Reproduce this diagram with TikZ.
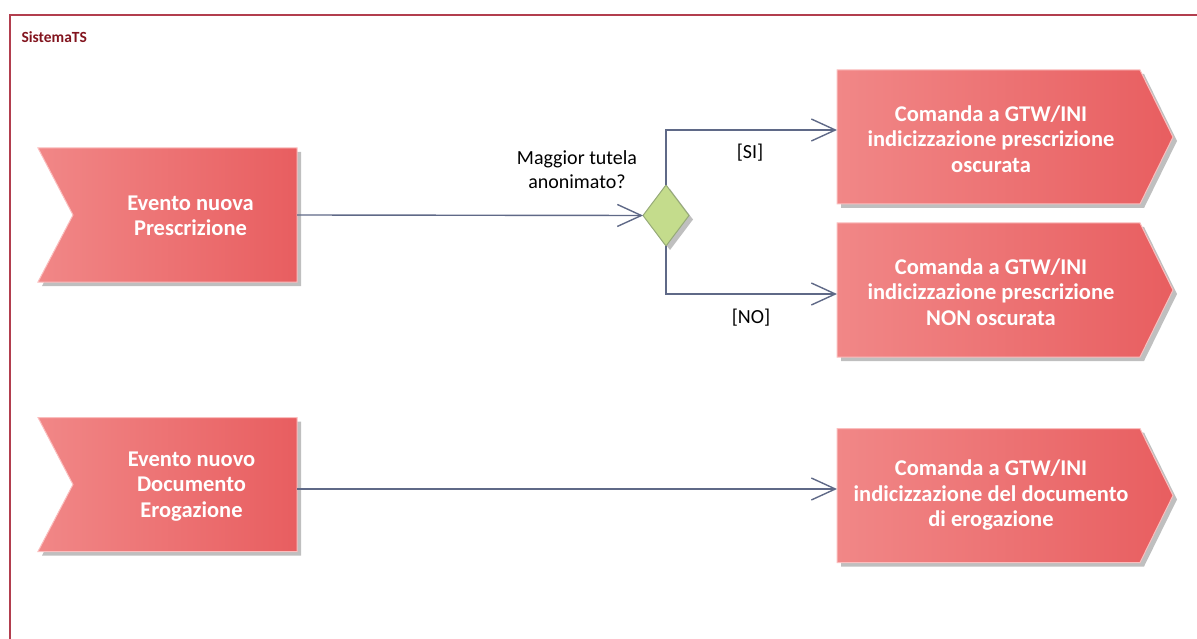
\documentclass[tikz,border=0pt]{standalone}
\usepackage{fontspec}
\setmainfont{Carlito}
\usetikzlibrary{calc,arrows.meta}
\definecolor{frameR}{RGB}{178,62,78}
\definecolor{titleR}{RGB}{130,20,30}
\definecolor{shL}{RGB}{241,135,135}
\definecolor{shR}{RGB}{232,94,96}
\definecolor{shB}{RGB}{250,190,190}
\definecolor{connC}{RGB}{95,105,135}
\definecolor{decF}{RGB}{196,220,140}
\definecolor{decB}{RGB}{150,170,120}
\tikzset{
  holder/.style={draw=none,inner sep=0pt,outer sep=0pt},
  shapetxt/.style={text=white,font=\fontsize{22.5}{25.5}\selectfont\bfseries,align=center},
  lbl/.style={text=black,font=\fontsize{20}{24}\selectfont},
  conn/.style={draw=connC,line width=1.4pt,-{Straight Barb[length=24pt,width=22pt,line width=1.4pt]}},
  redfill/.style={left color=shL,right color=shR,draw=shB,line width=1pt},
  shadowfill/.style={fill=black!25,draw=none,transform canvas={shift={(4,4)}}}
}
\begin{document}
\begin{tikzpicture}[x=1pt,y=-1pt]
\useasboundingbox (0,0) rectangle (1197,639);
% frame
\draw[frameR,line width=1.8pt] (10,639) -- (10,15) -- (1197,15);
\node[anchor=west,text=titleR,font=\fontsize{15.5}{18}\selectfont\bfseries] (title) at (18,37) {SistemaTS};

% holder nodes
\node[holder,minimum width=259pt,minimum height=134pt] (ev1) at (167.5,215) {};
\node[holder,minimum width=259pt,minimum height=134pt] (ev2) at (167.5,484.5) {};
\node[holder,minimum width=336pt,minimum height=134pt] (box1) at (1005,137) {};
\node[holder,minimum width=336pt,minimum height=134pt] (box2) at (1005,290) {};
\node[holder,minimum width=336pt,minimum height=134pt] (box3) at (1005,495.5) {};
\node[holder,minimum width=46pt,minimum height=61pt] (dec) at (666,215.5) {};

% shadows
\foreach \n in {ev1,ev2}{
  \fill[shadowfill] (\n.north west) -- (\n.north east) -- (\n.south east) -- (\n.south west) -- ($(\n.west)+(35,0)$) -- cycle;
}
\foreach \n in {box1,box2,box3}{
  \fill[shadowfill] (\n.north west) -- ($(\n.north east)+(-33,0)$) -- (\n.east) -- ($(\n.south east)+(-33,0)$) -- (\n.south west) -- cycle;
}
\fill[shadowfill] (dec.north) -- (dec.east) -- (dec.south) -- (dec.west) -- cycle;

% shapes
\foreach \n in {ev1,ev2}{
  \path[redfill] (\n.north west) -- (\n.north east) -- (\n.south east) -- (\n.south west) -- ($(\n.west)+(35,0)$) -- cycle;
}
\foreach \n in {box1,box2,box3}{
  \path[redfill] (\n.north west) -- ($(\n.north east)+(-33,0)$) -- (\n.east) -- ($(\n.south east)+(-33,0)$) -- (\n.south west) -- cycle;
}
\draw[fill=decF,draw=decB,line width=1pt] (dec.north) -- (dec.east) -- (dec.south) -- (dec.west) -- cycle;

% texts
\node[shapetxt] (ev1t) at ($(ev1.center)+(23,1)$) {Evento nuova\\Prescrizione};
\node[shapetxt] (ev2t) at ($(ev2.center)+(24,2)$) {Evento nuovo\\Documento\\Erogazione};
\node[shapetxt] (box1t) at ($(box1.center)+(-14,2)$) {Comanda a GTW/INI\\indicizzazione prescrizione\\oscurata};
\node[shapetxt] (box2t) at ($(box2.center)+(-14,2)$) {Comanda a GTW/INI\\indicizzazione prescrizione\\NON oscurata};
\node[shapetxt] (box3t) at ($(box3.center)+(-14,0)$) {Comanda a GTW/INI\\indicizzazione del documento\\di erogazione};

% connectors
\draw[conn] (ev1.east) -- (dec.west);
\draw[conn] (dec.north) |- ($(box1.west)+(0,-7)$);
\draw[conn] (dec.south) |- ($(box2.west)+(0,4)$);
\coordinate (c3) at ($(ev2.east)+(0,4.5)$);
\draw[conn] (c3) -- (c3 -| box3.west);

% labels
\node[lbl,align=center] (q) at (577,170) {Maggior tutela\\anonimato?};
\node[lbl] (si) at (750,153) {[SI]};
\node[lbl] (no) at (751,318) {[NO]};
\end{tikzpicture}
\end{document}
